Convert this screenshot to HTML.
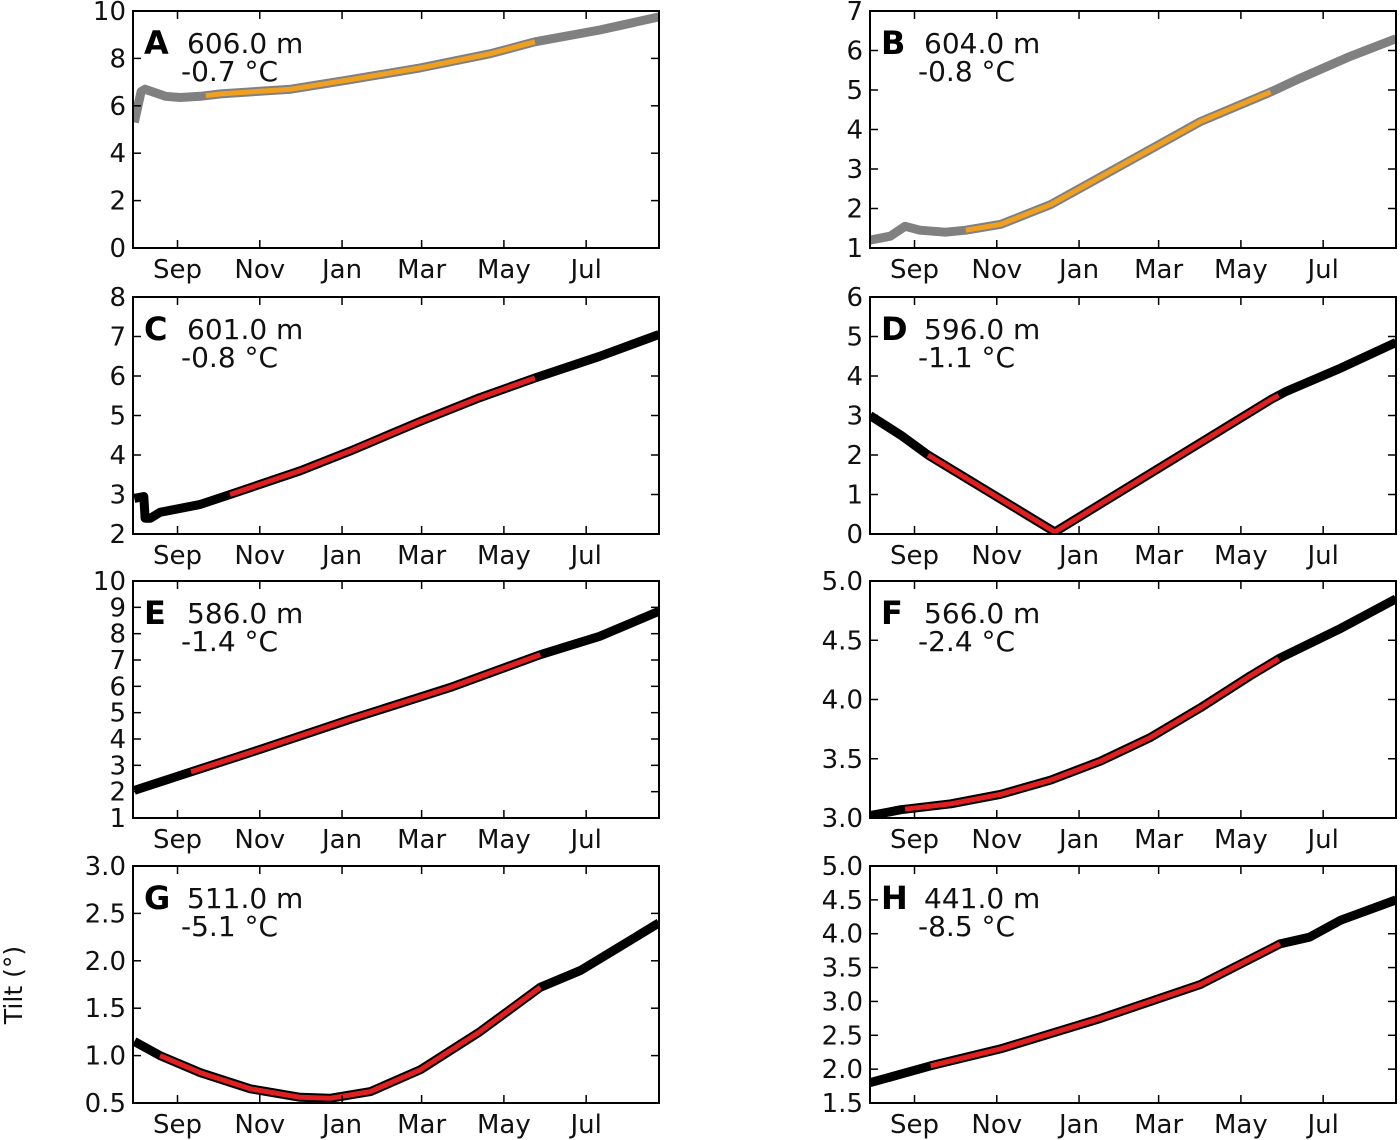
<!DOCTYPE html>
<html><head><meta charset="utf-8"><style>
html,body{margin:0;padding:0;background:#fff;}
svg{display:block;font-family:"DejaVu Sans","Liberation Sans",sans-serif;}
</style></head><body>
<svg id="fig" width="1400" height="1140" viewBox="0 0 1400 1140">
<text x="22" y="985" font-size="25" text-anchor="middle" transform="rotate(-90 22 985)" fill="#111">Tilt (°)</text>
</svg>
<script>
// Month tick labels and day offsets (days from Sep 1)
const monthLabels = ["Sep","Nov","Jan","Mar","May","Jul"];
const monthDays = [0,61,122,181,242,303];
const dayMin = -33, dayMax = 357;

// Panel A
const aDays = [-32,-27,-24,-9,2,17,32,84,128,180,232,265,313,357];
const aVals = [5.3,6.6,6.7,6.4,6.35,6.4,6.5,6.7,7.1,7.6,8.2,8.7,9.2,9.75];
// Panel B
const bDays = [-33,-18,-7,4,23,38,64,101,138,175,212,264,286,323,357];
const bVals = [1.2,1.3,1.55,1.45,1.4,1.45,1.6,2.1,2.8,3.5,4.2,4.95,5.3,5.85,6.3];
// Panel C
const cDays = [-32,-25,-24,-20,-13,17,39,91,128,180,224,265,313,357];
const cVals = [2.9,2.95,2.4,2.4,2.55,2.75,3.0,3.6,4.1,4.85,5.45,5.95,6.5,7.05];
// Panel D
const dDays = [-33,-10,10,104,264,275,316,357];
const dVals = [3.0,2.5,2.0,0.05,3.4,3.6,4.2,4.85];
// Panel E
const eDays = [-32,10,61,128,202,269,313,357];
const eVals = [2.05,2.75,3.6,4.75,5.95,7.2,7.9,8.85];
// Panel F
const fDays = [-33,-10,27,64,101,138,175,212,249,271,316,357];
const fVals = [3.02,3.07,3.12,3.2,3.32,3.48,3.68,3.93,4.2,4.35,4.6,4.85];
// Panel G
const gDays = [-32,-13,17,54,91,113,143,180,224,269,299,328,357];
const gVals = [1.15,1.0,0.82,0.65,0.56,0.55,0.62,0.85,1.25,1.72,1.9,2.15,2.4];
// Panel H
const hDays = [-33,12,64,138,212,271,293,316,357];
const hVals = [1.8,2.05,2.3,2.75,3.25,3.85,3.95,4.2,4.5];

// Fit windows (start/end day)
const fitStart = [21,38,39,10,10,-7,-13,12];
const fitEnd = [265,264,265,270,269,270,269,271];

const yTicksA = ["0","2","4","6","8","10"];
const yTicksB = ["1","2","3","4","5","6","7"];
const yTicksC = ["2","3","4","5","6","7","8"];
const yTicksD = ["0","1","2","3","4","5","6"];
const yTicksE = ["1","2","3","4","5","6","7","8","9","10"];
const yTicksF = ["3.0","3.5","4.0","4.5","5.0"];
const yTicksG = ["0.5","1.0","1.5","2.0","2.5","3.0"];
const yTicksH = ["1.5","2.0","2.5","3.0","3.5","4.0","4.5","5.0"];

const letters = ["A","B","C","D","E","F","G","H"];
const depths = ["606.0 m","604.0 m","601.0 m","596.0 m","586.0 m","566.0 m","511.0 m","441.0 m"];
const temps = ["-0.7","-0.8","-0.8","-1.1","-1.4","-2.4","-5.1","-8.5"];

const panels = [
 {d:aDays,v:aVals,t:yTicksA,base:"#808080",fit:"#f0a020"},
 {d:bDays,v:bVals,t:yTicksB,base:"#808080",fit:"#f0a020"},
 {d:cDays,v:cVals,t:yTicksC,base:"#000",fit:"#e02020"},
 {d:dDays,v:dVals,t:yTicksD,base:"#000",fit:"#e02020"},
 {d:eDays,v:eVals,t:yTicksE,base:"#000",fit:"#e02020"},
 {d:fDays,v:fVals,t:yTicksF,base:"#000",fit:"#e02020"},
 {d:gDays,v:gVals,t:yTicksG,base:"#000",fit:"#e02020"},
 {d:hDays,v:hVals,t:yTicksH,base:"#000",fit:"#e02020"}
];
const lefts=[133,870], tops=[11,297,581,866], W=526, H=237;
const svg=document.getElementById('fig');
const NS="http://www.w3.org/2000/svg";
function mk(tag,attrs,parent){const e=document.createElementNS(NS,tag);for(const k in attrs)e.setAttribute(k,attrs[k]);(parent||svg).appendChild(e);return e;}

panels.forEach((p,i)=>{
 const L=lefts[i%2], T=tops[Math.floor(i/2)];
 const y0=parseFloat(p.t[0]), y1=parseFloat(p.t[p.t.length-1]);
 const xs=d=>L+(d-dayMin)/(dayMax-dayMin)*W;
 const ys=v=>T+H-(v-y0)/(y1-y0)*H;
 const g=mk('g',{});
 
 
 const cp=mk('clipPath',{id:'clip'+i},g);
 mk('rect',{x:L,y:T,width:W,height:H},cp);
 const pts=p.d.map((d,k)=>xs(d).toFixed(1)+','+ys(p.v[k]).toFixed(1)).join(' ');
 const base=mk('polyline',{points:pts,fill:'none',stroke:p.base,'stroke-width':9,'stroke-linejoin':'round','clip-path':'url(#clip'+i+')'},g);
 
 
 const fs=fitStart[i], fe=fitEnd[i];
 const interp=d=>{for(let k=0;k<p.d.length-1;k++){if(d>=p.d[k]&&d<=p.d[k+1]){const r=(d-p.d[k])/(p.d[k+1]-p.d[k]);return p.v[k]+r*(p.v[k+1]-p.v[k]);}}return p.v[p.v.length-1];};
 const fp=[[fs,interp(fs)]];
 p.d.forEach((d,k)=>{if(d>fs&&d<fe)fp.push([d,p.v[k]]);});
 fp.push([fe,interp(fe)]);
 const fit=mk('polyline',{points:fp.map(q=>xs(q[0]).toFixed(1)+','+ys(q[1]).toFixed(1)).join(' '),fill:'none',stroke:p.fit,'stroke-width':5,'stroke-linejoin':'round'},g);
 
 
 const fr=mk('rect',{x:L,y:T,width:W,height:H,fill:'none',stroke:'#000','stroke-width':2},g);
 
 
 monthDays.forEach((d,k)=>{
  const x=xs(d);
  mk('line',{x1:x,x2:x,y1:T+H,y2:T+H-8,stroke:'#000','stroke-width':1.5},g);
  mk('line',{x1:x,x2:x,y1:T,y2:T+8,stroke:'#000','stroke-width':1.5},g);
  const tl=mk('text',{x:x,y:T+H+30,'font-size':26,'text-anchor':'middle',fill:'#111'},g);
  tl.textContent=monthLabels[k];
  
  
 });
 p.t.forEach(s=>{
  const y=ys(parseFloat(s));
  mk('line',{x1:L,x2:L+8,y1:y,y2:y,stroke:'#000','stroke-width':1.5},g);
  mk('line',{x1:L+W,x2:L+W-8,y1:y,y2:y,stroke:'#000','stroke-width':1.5},g);
  const tl=mk('text',{x:L-7,y:y+9,'font-size':26,'text-anchor':'end',fill:'#111'},g);
  tl.textContent=s;
  
  
 });
 const lt=mk('text',{x:L+11,y:T+43,'font-size':32,'font-weight':'bold'},g);
 lt.textContent=letters[i];
 
 
 const dt=mk('text',{x:L+54,y:T+42,'font-size':28,fill:'#111'},g);
 dt.textContent=depths[i];
 
 
 const tt=mk('text',{x:L+48,y:T+70,'font-size':28,fill:'#111'},g);
 tt.textContent=temps[i]+' °C';
 
 
});
</script>
</body></html>
